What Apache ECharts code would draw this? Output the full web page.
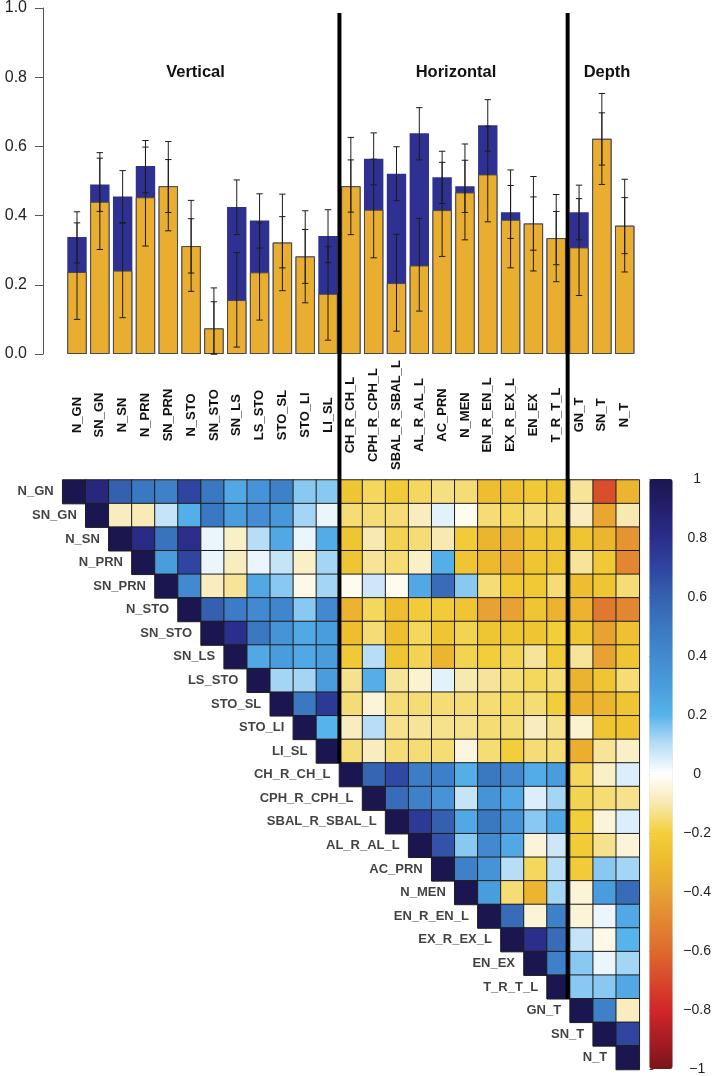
<!DOCTYPE html>
<html><head><meta charset="utf-8">
<script src="https://cdn.jsdelivr.net/npm/echarts@6/dist/echarts.min.js"></script>
<style>html,body{margin:0;padding:0;background:#fff}#c{width:714px;height:1076px}</style>
</head><body><div id="c"></div><script>
const categories = ['N_GN','SN_GN','N_SN','N_PRN','SN_PRN','N_STO','SN_STO','SN_LS','LS_STO','STO_SL','STO_LI','LI_SL',
  'CH_R_CH_L','CPH_R_CPH_L','SBAL_R_SBAL_L','AL_R_AL_L','AC_PRN','N_MEN','EN_R_EN_L','EX_R_EX_L','EN_EX','T_R_T_L',
  'GN_T','SN_T','N_T'];
const groupTitles = ['Vertical','Horizontal','Depth'];
// navy (total) bars and their error bars
const totalValues = [0.338,0.490,0.455,0.543,0.485,0.312,0.074,0.425,0.386,0.322,0.282,0.341,0.485,0.564,0.521,0.638,0.511,0.485,0.661,0.410,0.377,0.335,0.410,0.622,0.371];
const totalLow    = [0.263,0.412,0.380,0.466,0.409,0.234,0.000,0.345,0.306,0.249,0.204,0.264,0.410,0.489,0.443,0.561,0.435,0.409,0.586,0.334,0.300,0.258,0.330,0.546,0.290];
const totalHigh   = [0.411,0.582,0.530,0.617,0.562,0.391,0.151,0.503,0.463,0.397,0.360,0.417,0.561,0.639,0.599,0.712,0.586,0.560,0.735,0.487,0.454,0.412,0.488,0.697,0.452];
// orange bars and their error bars
const orangeValues = [0.237,0.440,0.241,0.453,0.485,0.312,0.074,0.156,0.236,0.322,0.282,0.174,0.485,0.417,0.205,0.256,0.416,0.467,0.519,0.388,0.377,0.335,0.308,0.622,0.371];
const orangeLow    = [0.100,0.302,0.105,0.312,0.356,0.181,0.000,0.020,0.098,0.183,0.148,0.040,0.345,0.278,0.066,0.124,0.282,0.330,0.382,0.249,0.240,0.209,0.169,0.490,0.237];
const orangeHigh   = [0.379,0.566,0.378,0.598,0.614,0.444,0.191,0.293,0.379,0.462,0.414,0.310,0.626,0.563,0.346,0.392,0.554,0.607,0.658,0.532,0.513,0.461,0.449,0.753,0.505];
// upper triangle correlations: row i holds columns i+1 .. 24
const corrRows = [
 [0.85,0.6,0.5,0.45,0.7,0.5,0.25,0.35,0.45,0.15,0.15,-0.25,-0.17,-0.22,-0.17,-0.14,-0.15,-0.28,-0.27,-0.23,-0.25,-0.12,-0.68,-0.32],
 [-0.08,-0.09,0.08,0.22,0.5,0.3,0.38,0.33,0.12,0.03,-0.15,-0.15,-0.15,-0.08,0.04,-0.02,-0.15,-0.17,-0.15,-0.15,-0.08,-0.38,-0.1],
 [0.82,0.52,0.8,0.03,-0.07,0.1,0.25,0.03,0.23,-0.25,-0.1,-0.18,-0.15,-0.1,-0.22,-0.32,-0.33,-0.25,-0.25,-0.25,-0.32,-0.45],
 [0.3,0.7,0.03,-0.08,0.03,0.08,-0.07,0.12,-0.25,-0.12,-0.15,-0.07,0.22,-0.25,-0.3,-0.35,-0.25,-0.25,-0.12,-0.23,-0.5],
 [0.4,-0.08,-0.12,0.25,0.15,-0.03,0.12,-0.02,0.07,-0.02,0.25,0.55,0.15,-0.15,-0.23,-0.23,-0.15,-0.28,-0.25,-0.15],
 [0.6,0.48,0.4,0.42,0.15,0.4,-0.33,-0.17,-0.28,-0.22,-0.22,-0.25,-0.4,-0.4,-0.25,-0.33,-0.33,-0.55,-0.5],
 [0.8,0.5,0.35,0.25,0.3,-0.28,-0.15,-0.28,-0.17,-0.25,-0.18,-0.25,-0.25,-0.25,-0.2,-0.25,-0.4,-0.27],
 [0.25,0.3,0.25,0.3,-0.23,0.1,-0.25,-0.18,-0.32,-0.18,-0.2,-0.18,-0.12,-0.22,-0.12,-0.4,-0.25],
 [0.12,0.12,0.3,-0.13,0.22,-0.12,-0.06,0.04,-0.1,-0.12,-0.15,-0.17,-0.15,-0.33,-0.25,-0.15],
 [0.5,0.75,-0.15,-0.05,-0.15,-0.15,-0.15,-0.15,-0.15,-0.17,-0.15,-0.2,-0.33,-0.32,-0.25],
 [0.2,-0.08,0.1,-0.13,-0.12,-0.13,-0.13,-0.15,-0.15,-0.08,-0.13,-0.06,-0.25,-0.25],
 [-0.15,-0.08,-0.15,-0.15,-0.15,-0.04,-0.15,-0.2,-0.15,-0.15,-0.35,-0.12,-0.07],
 [0.58,0.68,0.47,0.46,0.22,0.5,0.4,0.23,0.3,-0.17,-0.07,0.05],
 [0.55,0.45,0.35,0.08,0.35,0.25,0.05,0.12,-0.18,-0.15,-0.13],
 [0.75,0.6,0.25,0.5,0.35,0.15,0.25,-0.2,-0.05,0.05],
 [0.65,0.15,0.4,0.25,-0.05,0.07,-0.22,-0.13,-0.05],
 [0.45,0.35,0.1,-0.17,0.1,-0.22,0.15,0.12],
 [0.3,-0.15,-0.32,0.12,-0.05,0.3,0.55],
 [0.55,-0.05,0.45,-0.05,0.03,0.25],
 [0.8,0.55,0.08,-0.03,0.2],
 [0.45,0.15,0.03,0.12],
 [0.15,0.15,0.25],
 [0.45,-0.08],
 [0.7]
];
const colorTicks = [-1,-0.8,-0.6,-0.4,-0.2,0,0.2,0.4,0.6,0.8,1];
const rampColors = ['#7A1419','#A81C24','#D2262A','#D8482B','#DE6A2E','#E38631','#E8A233','#EDBA2E','#F2CF3A','#F8E9B0','#FFFFFF',
  '#B8DDF6','#57B3EB','#4A9DDD','#4289D0','#3A78C2','#3560B0','#2F45A0','#2B2E8A','#221F6E','#1B1650'];

const FONT = '"Liberation Sans", Arial, Helvetica, sans-serif';
const n = categories.length;
const heatData = [];
for (let i = 0; i < n; i++) {
  heatData.push([i, i, 1]);
  if (i < corrRows.length) corrRows[i].forEach((v, k) => heatData.push([i + 1 + k, i, v]));
}
const errData = (lo, hi) => categories.map((c, i) => [i, lo[i], hi[i]]);
function errRender(params, api) {
  const x = api.value(0);
  const a = api.coord([x, api.value(1)]);
  const b = api.coord([x, api.value(2)]);
  const hw = 3.2;
  const st = {stroke: '#1c1c1c', lineWidth: 1};
  return {type: 'group', children: [
    {type: 'line', shape: {x1: a[0], y1: a[1], x2: b[0], y2: b[1]}, style: st},
    {type: 'line', shape: {x1: a[0]-hw, y1: a[1], x2: a[0]+hw, y2: a[1]}, style: st},
    {type: 'line', shape: {x1: b[0]-hw, y1: b[1], x2: b[0]+hw, y2: b[1]}, style: st}
  ]};
}
const fmtTick = v => { const r = Math.round(v * 10) / 10; return (r === 0 ? '0' : String(r)).replace('-', '\u2212'); };

const chart = echarts.init(document.getElementById('c'), null, {renderer: 'canvas'});
chart.setOption({
  animation: false,
  textStyle: {fontFamily: FONT},
  grid: [
    {left: 65.6, top: 7.3, width: 570.5, height: 346.7},
    {left: 62.7, top: 480, width: 576.6, height: 589.5},
    {left: 649.3, top: 479, width: 23.4, height: 590}
  ],
  xAxis: [
    {gridIndex: 0, type: 'category', data: categories, axisLine: {show: false}, axisTick: {show: false},
     axisLabel: {interval: 0, rotate: 90, align: 'center', verticalAlign: 'middle', margin: 61,
       fontWeight: 'bold', fontSize: 13, color: '#111', fontFamily: FONT}},
    {gridIndex: 1, type: 'category', data: categories, show: false},
    {gridIndex: 2, type: 'value', min: 0, max: 1, show: false}
  ],
  yAxis: [
    {gridIndex: 0, type: 'value', min: 0, max: 1, interval: 0.2, offset: 22.6,
     axisLine: {show: true, lineStyle: {color: '#555', width: 1}},
     axisTick: {show: true, length: 8, lineStyle: {color: '#555'}},
     splitLine: {show: false},
     axisLabel: {margin: 16, fontSize: 16, color: '#222', fontFamily: FONT, formatter: v => v.toFixed(1)}},
    {gridIndex: 1, type: 'category', data: categories, inverse: true, show: false},
    {gridIndex: 2, type: 'value', min: -1, max: 1, interval: 0.2, position: 'right',
     axisLine: {show: false}, splitLine: {show: false},
     axisTick: {show: true, length: 4, lineStyle: {color: '#555'}},
     axisLabel: {margin: 28, align: 'center', fontSize: 14, color: '#222', fontFamily: FONT,
       formatter: v => colorTicks.some(t => Math.abs(t - v) < 1e-6) ? fmtTick(v) : ''}}
  ],
  visualMap: {
    type: 'continuous', min: -1, max: 1, seriesIndex: 4, left: 649.3, top: 479,
    itemWidth: 23.4, itemHeight: 590, calculable: false, padding: 0, hoverLink: false,
    inRange: {color: rampColors}
  },
  series: [
    {type: 'bar', xAxisIndex: 0, yAxisIndex: 0, data: totalValues, barWidth: '85%',
     itemStyle: {color: '#2F3192'}, z: 2, silent: true},
    {type: 'bar', xAxisIndex: 0, yAxisIndex: 0, data: orangeValues, barWidth: '85%', barGap: '-100%',
     itemStyle: {color: '#E9AD2F', borderColor: '#4a4a4a', borderWidth: 1}, z: 3, silent: true},
    {type: 'custom', xAxisIndex: 0, yAxisIndex: 0, data: errData(totalLow, totalHigh), renderItem: errRender,
     encode: {x: 0, y: [1, 2]}, z: 5, silent: true},
    {type: 'custom', xAxisIndex: 0, yAxisIndex: 0, data: errData(orangeLow, orangeHigh), renderItem: errRender,
     encode: {x: 0, y: [1, 2]}, z: 5, silent: true},
    {type: 'heatmap', xAxisIndex: 1, yAxisIndex: 1, data: heatData,
     itemStyle: {borderColor: '#1e1e1e', borderWidth: 1}, emphasis: {disabled: true}, silent: true},
    {type: 'scatter', xAxisIndex: 1, yAxisIndex: 1, data: categories.map((c, i) => [i, i]),
     symbolSize: 1, itemStyle: {color: 'rgba(0,0,0,0)'}, silent: true, z: 6,
     label: {show: true, position: 'left', distance: 20, formatter: p => categories[p.dataIndex],
       fontWeight: 'bold', fontSize: 13, color: '#111', fontFamily: FONT}},
    {type: 'line', xAxisIndex: 2, yAxisIndex: 2, data: [], silent: true}
  ]
});

const px = i => chart.convertToPixel({xAxisIndex: 0}, categories[i]);
const py = i => chart.convertToPixel({yAxisIndex: 1}, categories[i]);
const rowH = py(1) - py(0);
const line1 = (px(11) + px(12)) / 2;
const line2 = (px(21) + px(22)) / 2;
const end1 = py(11) + rowH / 2;
const end2 = py(21) + rowH / 2;
const titleFont = 'bold 16.5px ' + FONT;
chart.setOption({
  graphic: [
    {type: 'line', shape: {x1: line1, y1: 13, x2: line1, y2: end1}, style: {stroke: '#000', lineWidth: 4}, z: 100, silent: true},
    {type: 'line', shape: {x1: line2, y1: 13, x2: line2, y2: end2}, style: {stroke: '#000', lineWidth: 4}, z: 100, silent: true},
    {type: 'text', x: 195.5, y: 72, style: {text: groupTitles[0], font: titleFont, fill: '#111', textAlign: 'center', textVerticalAlign: 'middle'}, z: 100},
    {type: 'text', x: 456, y: 72, style: {text: groupTitles[1], font: titleFont, fill: '#111', textAlign: 'center', textVerticalAlign: 'middle'}, z: 100},
    {type: 'text', x: 607, y: 72, style: {text: groupTitles[2], font: titleFont, fill: '#111', textAlign: 'center', textVerticalAlign: 'middle'}, z: 100}
  ]
});
</script></body></html>
